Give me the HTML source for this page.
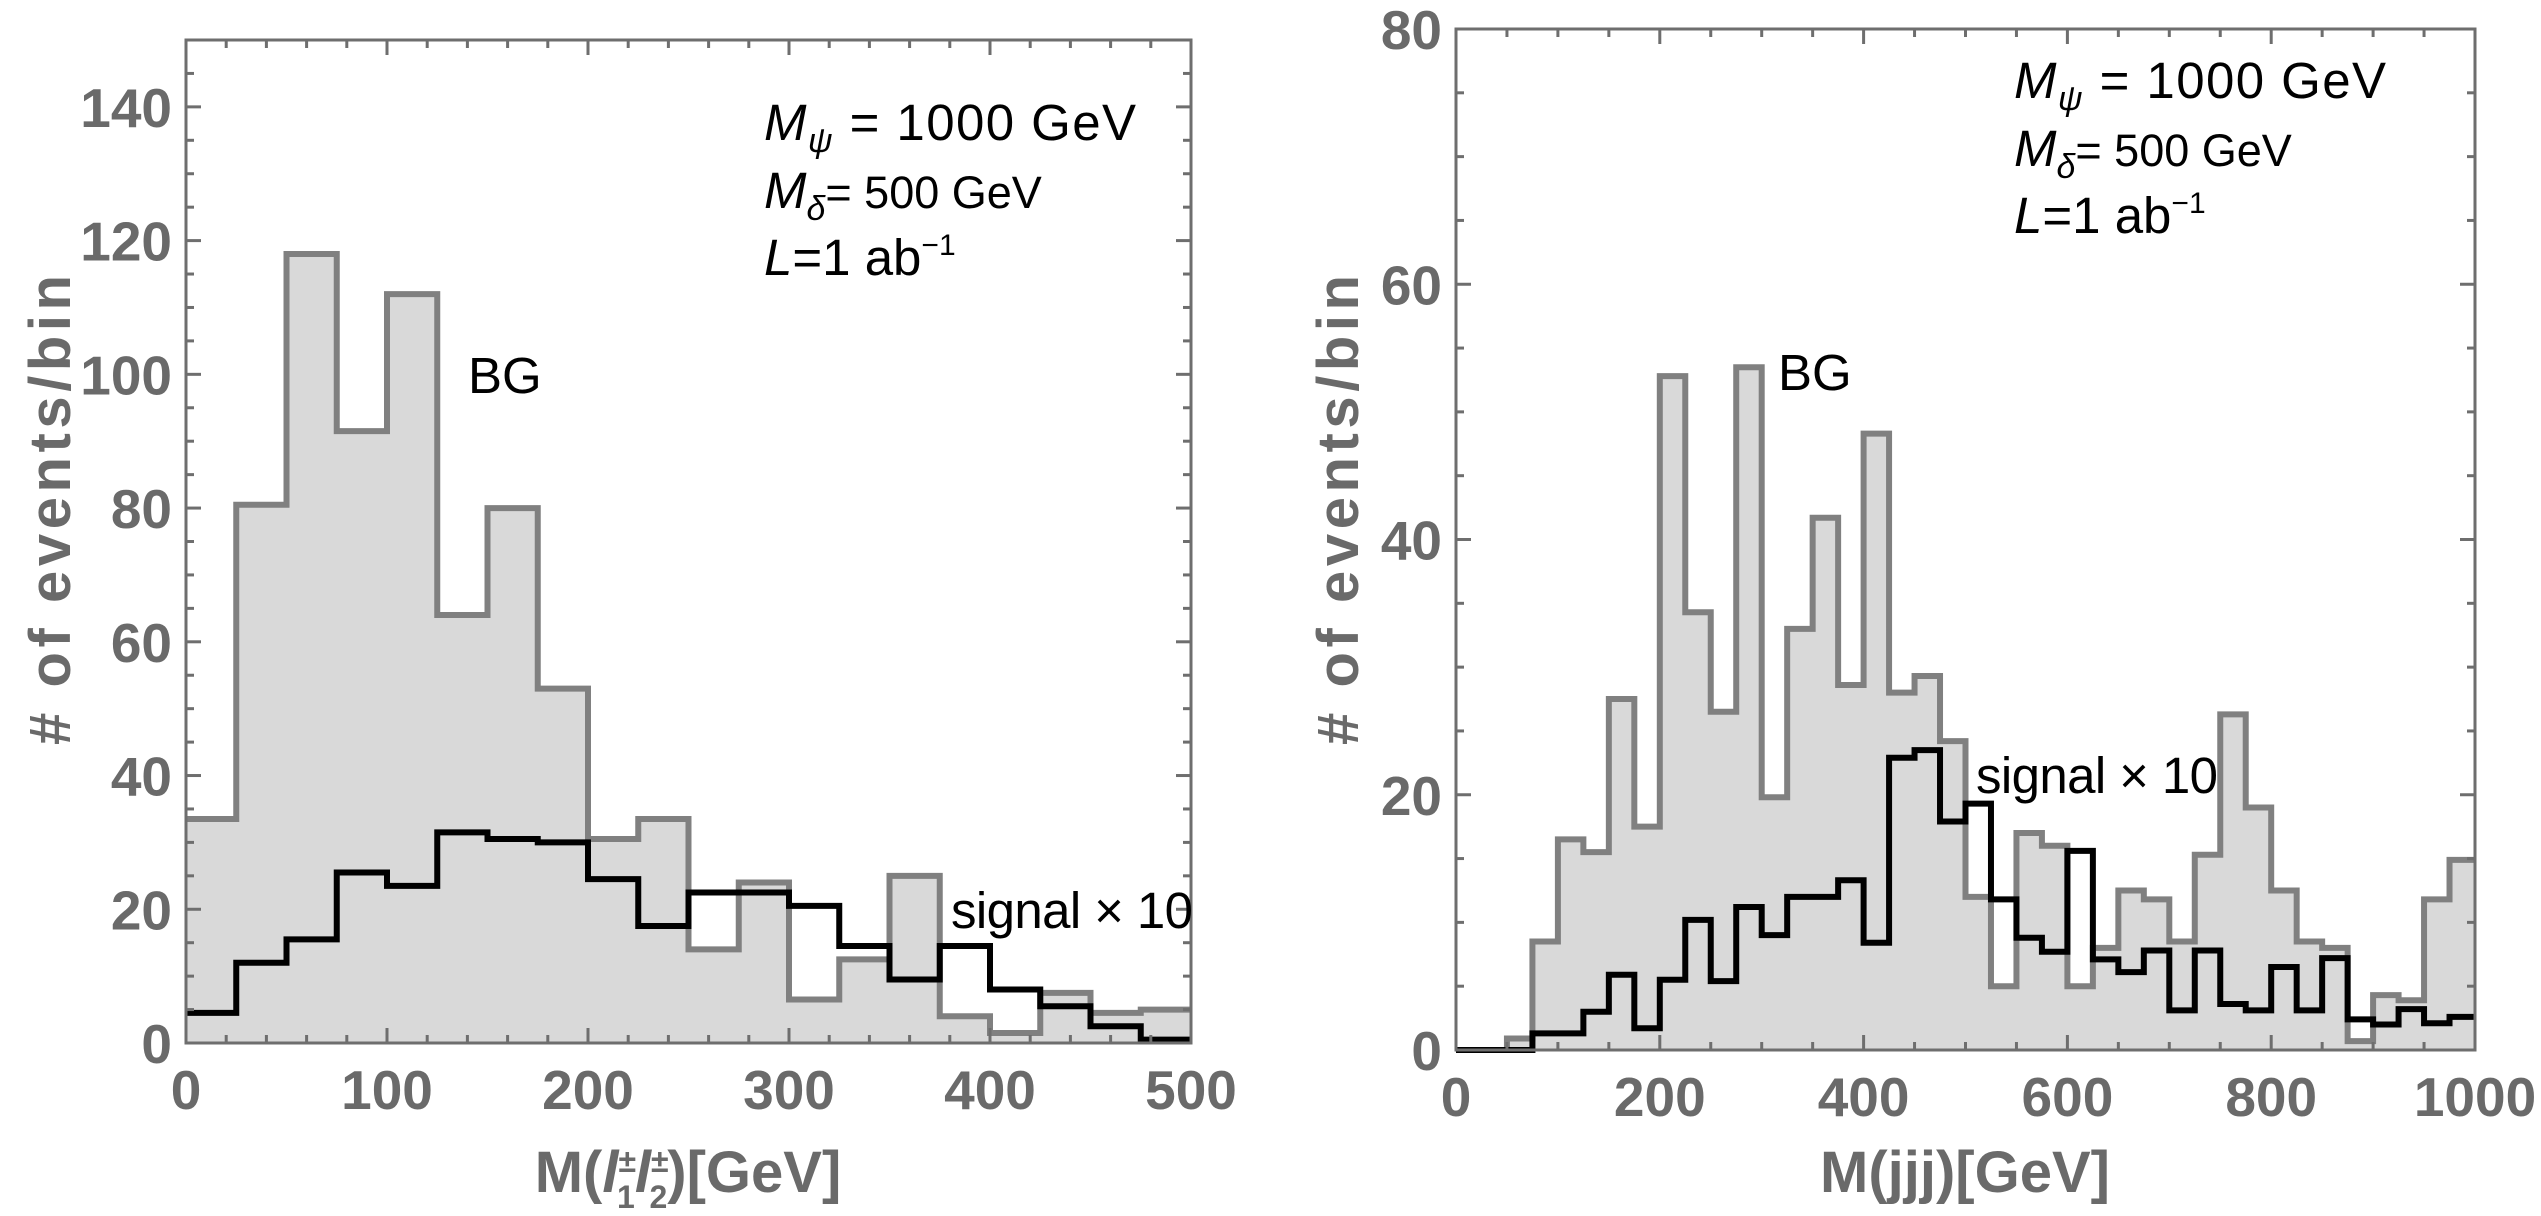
<!DOCTYPE html>
<html><head><meta charset="utf-8"><style>
html,body{margin:0;padding:0;background:#fff;}
svg{display:block;}
.tl{font-family:"Liberation Sans",sans-serif;font-weight:bold;fill:#6a6a6a;font-size:55px;}
.ti{font-family:"Liberation Sans",sans-serif;font-weight:bold;fill:#6a6a6a;font-size:58px;}
.an{font-family:"Liberation Sans",sans-serif;fill:#000;font-size:51px;}
</style></head><body>
<svg id="s" width="2541" height="1216" xmlns="http://www.w3.org/2000/svg">
<g id="g"></g>
<!-- annotations left -->
<text class="an" x="764" y="140" textLength="372"><tspan font-style="italic">M</tspan><tspan font-style="italic" font-size="34" dy="12">ψ</tspan><tspan dy="-12"> = 1000 GeV</tspan></text>
<text class="an" x="764" y="208"><tspan font-style="italic">M</tspan><tspan font-style="italic" font-size="34" dy="12">δ</tspan><tspan dy="-12" font-size="45">= 500 GeV</tspan></text>
<text class="an" x="764" y="275"><tspan font-style="italic">L</tspan>=1 ab<tspan font-size="30" dy="-20">−1</tspan></text>
<text class="an" x="468" y="393">BG</text>
<text class="an" x="951" y="928" textLength="242">signal × 10</text>
<!-- annotations right -->
<text class="an" x="2014" y="98" textLength="372"><tspan font-style="italic">M</tspan><tspan font-style="italic" font-size="34" dy="12">ψ</tspan><tspan dy="-12"> = 1000 GeV</tspan></text>
<text class="an" x="2014" y="166"><tspan font-style="italic">M</tspan><tspan font-style="italic" font-size="34" dy="12">δ</tspan><tspan dy="-12" font-size="45">= 500 GeV</tspan></text>
<text class="an" x="2014" y="233"><tspan font-style="italic">L</tspan>=1 ab<tspan font-size="30" dy="-20">−1</tspan></text>
<text class="an" x="1778" y="390">BG</text>
<text class="an" x="1976" y="793" textLength="242">signal × 10</text>
<!-- axis titles -->
<text class="ti" x="688" y="1192" text-anchor="middle">M(<tspan font-style="italic">l</tspan><tspan font-size="32" dy="-20">±</tspan><tspan font-size="32" dx="-19" dy="36">1</tspan><tspan font-style="italic" dy="-16">l</tspan><tspan font-size="32" dy="-20">±</tspan><tspan font-size="32" dx="-19" dy="36">2</tspan><tspan dy="-16">)[GeV]</tspan></text>
<text class="ti" x="1965" y="1192" text-anchor="middle">M(jjj)[GeV]</text>
<text class="ti" transform="translate(70,510) rotate(-90)" text-anchor="middle" textLength="470"># of events/bin</text>
<text class="ti" transform="translate(1358,510) rotate(-90)" text-anchor="middle" textLength="470"># of events/bin</text>
</svg>
<script>
const NS="http://www.w3.org/2000/svg",G=document.getElementById('g');
function el(t,a){const e=document.createElementNS(NS,t);for(const k in a)e.setAttribute(k,a[k]);G.appendChild(e);return e;}
function plot(P){
 const X=v=>P.x0+(v-0)*(P.x1-P.x0)/P.xmax, Y=v=>P.y0-(v)*(P.y0-P.y1)/P.ymax;
 function steps(d,w){let s="M"+X(0)+","+Y(d[0]);for(let i=0;i<d.length;i++){s+=" L"+X(i*w)+","+Y(d[i])+" L"+X((i+1)*w)+","+Y(d[i]);}return s;}
 const bg=steps(P.bg,P.w);
 el('path',{d:bg+" L"+X(P.xmax)+","+Y(0)+" L"+X(0)+","+Y(0)+"Z",fill:"#d9d9d9",stroke:"none"});
 el('path',{d:bg,fill:"none",stroke:"#808080","stroke-width":6});
 el('path',{d:steps(P.sg,P.w),fill:"none",stroke:"#000","stroke-width":6});
 el('rect',{x:P.x0,y:P.y1,width:P.x1-P.x0,height:P.y0-P.y1,fill:"none",stroke:"#6e6e6e","stroke-width":3});
 for(let v=0;v<=P.xmax+1e-6;v+=P.xmin){const maj=Math.abs(v/P.xmaj-Math.round(v/P.xmaj))<1e-6;const L=maj?15:8,x=X(v);
  el('line',{x1:x,y1:P.y0,x2:x,y2:P.y0-L,stroke:"#6e6e6e","stroke-width":3});
  el('line',{x1:x,y1:P.y1,x2:x,y2:P.y1+L,stroke:"#6e6e6e","stroke-width":3});
  if(maj){const t=el('text',{x:x,y:P.y0+66,"text-anchor":"middle",class:"tl"});t.textContent=Math.round(v);}}
 for(let v=0;v<=P.ymax+1e-6;v+=P.ymin){const maj=Math.abs(v/P.ymaj-Math.round(v/P.ymaj))<1e-6;const L=maj?15:8,y=Y(v);
  el('line',{x1:P.x0,y1:y,x2:P.x0+L,y2:y,stroke:"#6e6e6e","stroke-width":3});
  el('line',{x1:P.x1,y1:y,x2:P.x1-L,y2:y,stroke:"#6e6e6e","stroke-width":3});
  if(maj){const t=el('text',{x:P.x0-14,y:y+20,"text-anchor":"end",class:"tl"});t.textContent=Math.round(v);}}
}
plot({x0:186,x1:1191,y0:1043,y1:40,xmax:500,ymax:150,w:25,xmaj:100,xmin:20,ymaj:20,ymin:5,
 bg:[33.5,80.5,118,91.5,112,64,80,53,30.5,33.5,14,24,6.5,12.5,25,4,1.5,7.5,4.5,5],
 sg:[4.5,12,15.5,25.5,23.5,31.5,30.5,30,24.5,17.5,22.5,22.5,20.5,14.5,9.5,14.5,8,5.5,2.5,0.5]});
plot({x0:1456,x1:2475,y0:1050,y1:29,xmax:1000,ymax:80,w:25,xmaj:200,xmin:50,ymaj:20,ymin:5,
 bg:[0,0,0.9,8.5,16.5,15.5,27.5,17.5,52.8,34.3,26.5,53.5,19.8,33,41.7,28.6,48.3,28,29.3,24.2,12,5,17,16,5,8,12.5,11.8,8.5,15.3,26.3,19,12.5,8.5,8,0.7,4.3,3.9,11.8,14.9],
 sg:[0,0,0,1.3,1.3,3,5.9,1.7,5.5,10.2,5.4,11.2,9,12,12,13.3,8.4,22.9,23.5,17.9,19.3,11.8,8.8,7.7,15.6,7.1,6.1,7.8,3.1,7.8,3.6,3.1,6.5,3.1,7.2,2.4,2,3.2,2.1,2.6]});
const s=document.getElementById('s');s.appendChild(G);
document.querySelectorAll('text.an,text.ti').forEach(t=>{if(t.parentNode===s)s.appendChild(t);});
</script>
</body></html>
